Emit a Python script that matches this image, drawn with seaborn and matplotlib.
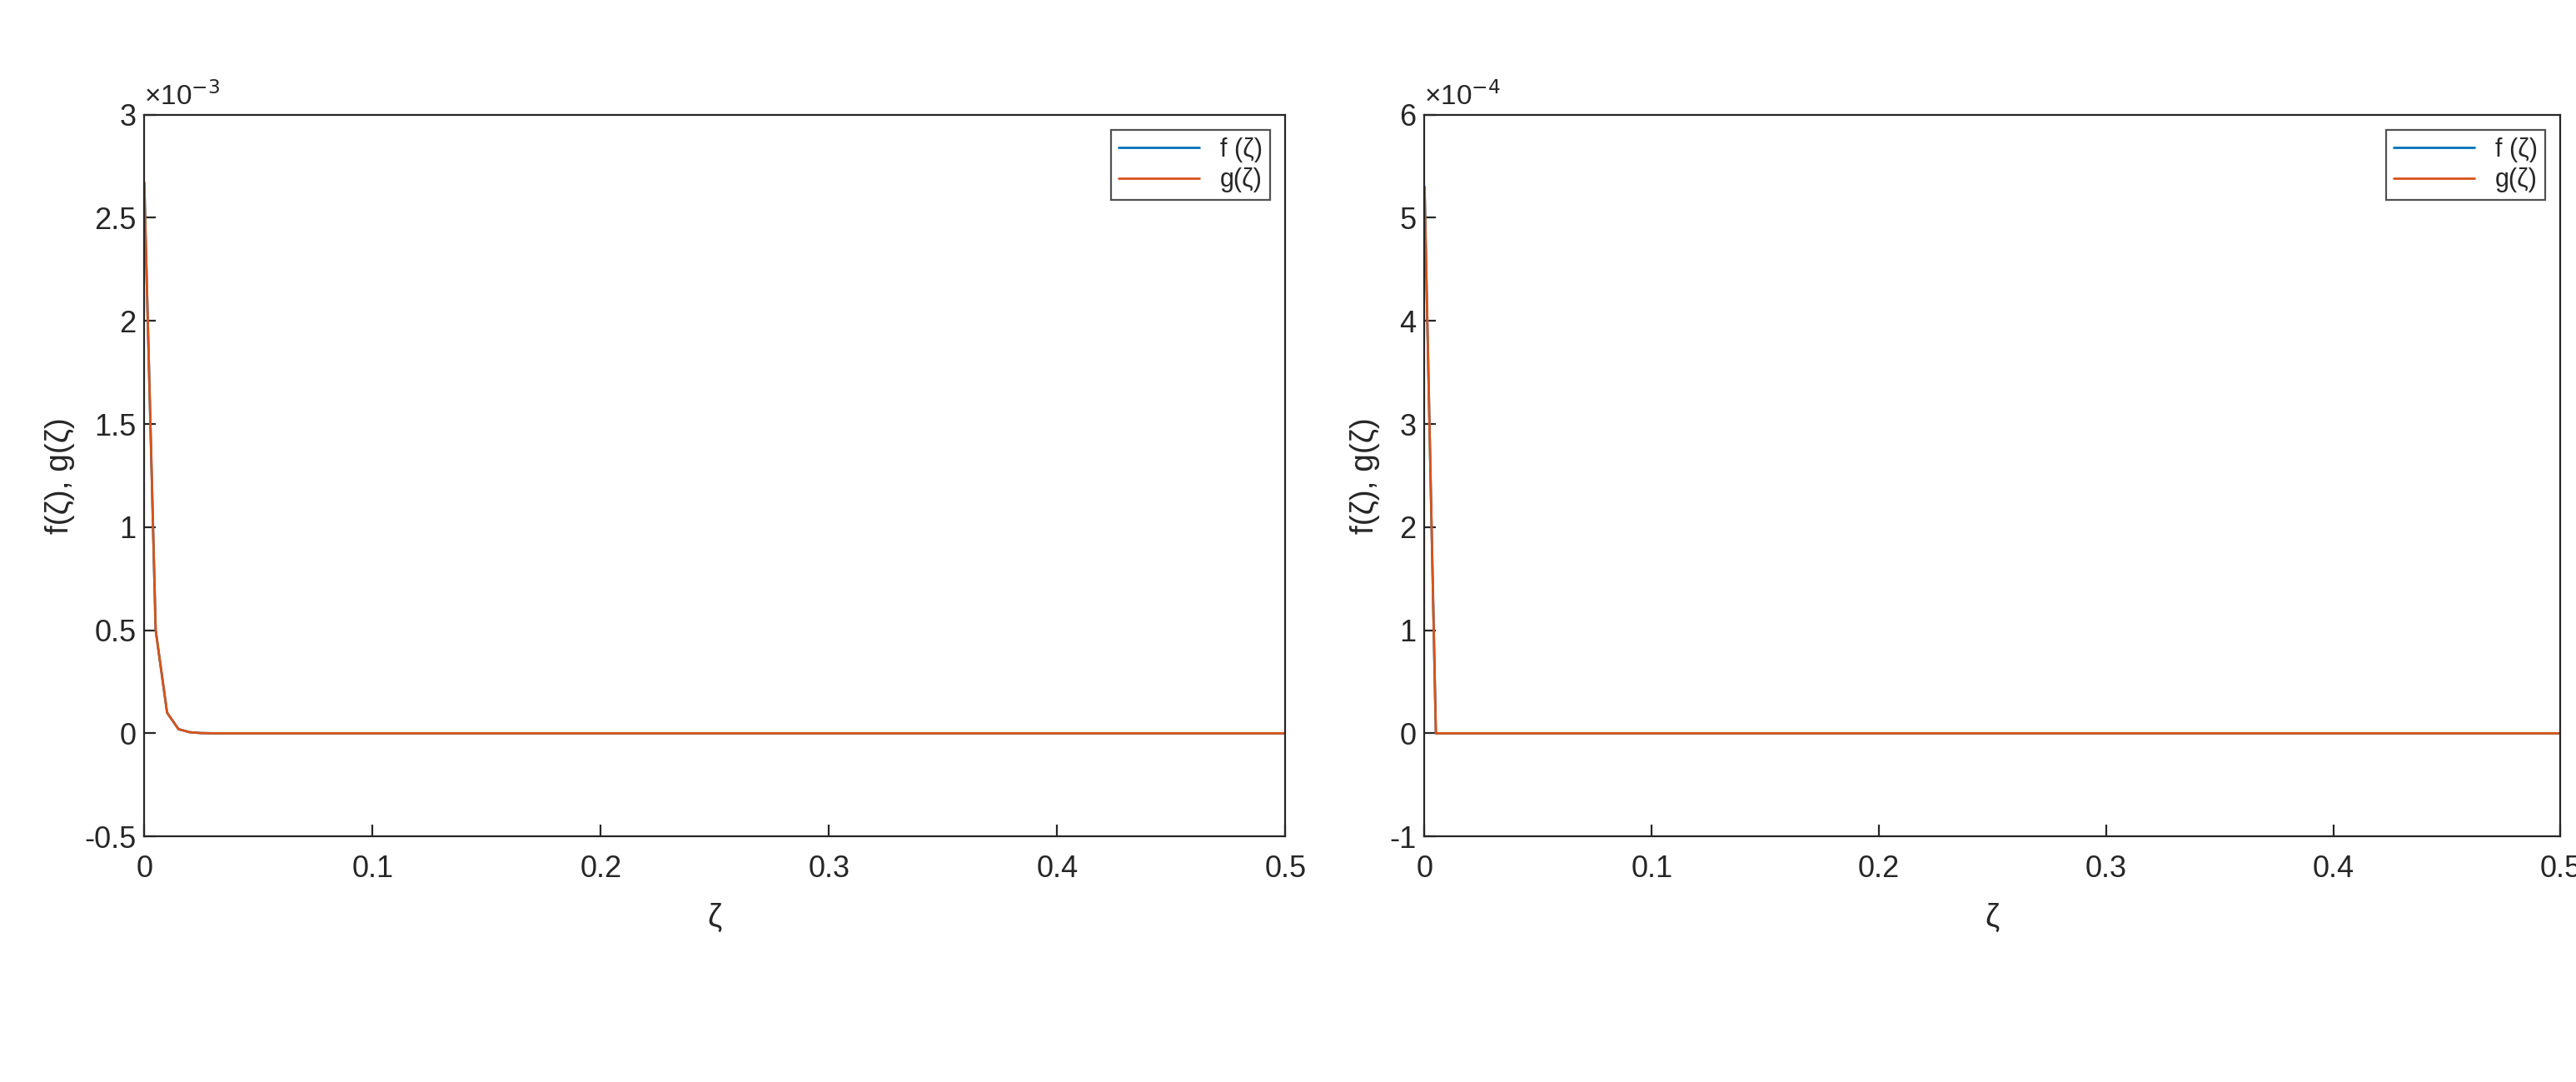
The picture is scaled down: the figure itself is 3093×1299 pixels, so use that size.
import numpy as np
import pandas as pd
import seaborn as sns
import matplotlib
matplotlib.use("Agg")
import matplotlib.pyplot as plt

sns.set_style("white")
plt.rcParams['font.family'] = ['Liberation Sans', 'DejaVu Sans']

zeta = [0.0, 0.005, 0.01, 0.015, 0.02, 0.025, 0.03, 0.1, 0.2, 0.3, 0.4, 0.5]
f_left = [2.67e-3, 0.5e-3, 0.1e-3, 0.02e-3, 0.005e-3, 0.001e-3, 0.0, 0.0, 0.0, 0.0, 0.0, 0.0]
g_left = [2.67e-3, 0.5e-3, 0.1e-3, 0.02e-3, 0.005e-3, 0.001e-3, 0.0, 0.0, 0.0, 0.0, 0.0, 0.0]
f_right = [5.3e-4, 0.0, 0.0, 0.0, 0.0, 0.0, 0.0, 0.0, 0.0, 0.0, 0.0, 0.0]
g_right = [5.3e-4, 0.0, 0.0, 0.0, 0.0, 0.0, 0.0, 0.0, 0.0, 0.0, 0.0, 0.0]
yticks_left = [-0.5, 0, 0.5, 1, 1.5, 2, 2.5, 3]
yticks_right = [-1, 0, 1, 2, 3, 4, 5, 6]

blue = (0.0, 0.447, 0.741)
orange = (0.85, 0.325, 0.098)

fig = plt.figure(figsize=(15.465, 6.495), dpi=200)
axL = fig.add_axes([0.056, 0.227, 0.443, 0.667])
axR = fig.add_axes([0.553, 0.227, 0.441, 0.667])

panels = [(axL, f_left, g_left, yticks_left, 1e-3, "-3"),
          (axR, f_right, g_right, yticks_right, 1e-4, "-4")]
for ax, f, g, yt, scale, expo in panels:
    df = pd.DataFrame({"zeta": zeta, "f": np.array(f) / scale, "g": np.array(g) / scale})
    sns.lineplot(data=df, x="zeta", y="f", ax=ax, color=blue, lw=1.0, label="f (ζ)")
    sns.lineplot(data=df, x="zeta", y="g", ax=ax, color=orange, lw=1.0, label="g(ζ)")
    ax.set_xlim(0, 0.5)
    ax.set_ylim(yt[0], yt[-1])
    ax.set_xticks([0, 0.1, 0.2, 0.3, 0.4, 0.5])
    ax.set_xticklabels(["0", "0.1", "0.2", "0.3", "0.4", "0.5"])
    ax.set_yticks(yt)
    ax.set_yticklabels([f"{v:g}" for v in yt])
    ax.text(0.0, 1.005, "×10$^{" + expo + "}$", transform=ax.transAxes, fontsize=12,
            color='#262626', ha='left', va='bottom')
    ax.tick_params(direction='in', labelsize=13, colors='#262626', length=5, top=False, right=False,
                   bottom=True, left=True)
    ax.tick_params(axis='x', pad=8)
    for s in ax.spines.values():
        s.set_color('#262626'); s.set_linewidth(0.8)
    ax.set_xlabel("ζ", fontsize=14, color='#262626', labelpad=8)
    ax.set_ylabel("f(ζ), g(ζ)", fontsize=14, color='#262626')
    leg = ax.legend(loc='upper right', fontsize=11, frameon=True, fancybox=False,
                    handlelength=3.2, borderpad=0.3, labelspacing=0.2, borderaxespad=0.6)
    leg.get_frame().set_edgecolor('#262626')
    leg.get_frame().set_linewidth(0.8)

fig.savefig("out.png", dpi=200)
